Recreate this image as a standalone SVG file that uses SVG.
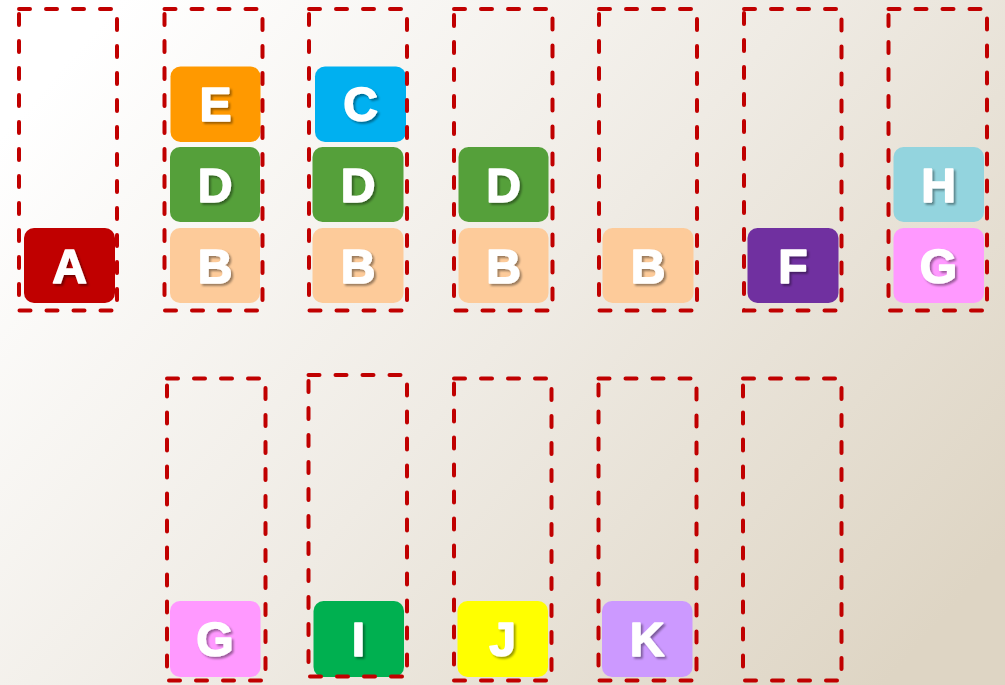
<svg xmlns="http://www.w3.org/2000/svg" width="1005" height="685" viewBox="0 0 1005 685">
<defs>
<linearGradient id="bg" x1="0" y1="0.2" x2="1" y2="0.8">
<stop offset="0" stop-color="#ffffff"/>
<stop offset="0.5" stop-color="#efebe4"/>
<stop offset="1" stop-color="#ded5c4"/>
</linearGradient>
<filter id="sh" x="-30%" y="-30%" width="160%" height="160%">
<feDropShadow dx="2" dy="2" stdDeviation="1" flood-color="#000" flood-opacity="0.4"/>
</filter>
<style>
.box{fill:none;stroke:#c00000;stroke-width:4;stroke-dasharray:11 16;stroke-linecap:round}
.t{rx:10;ry:10}
.lbl{font-family:"Liberation Sans",Arial,sans-serif;font-weight:bold;font-size:48px;fill:#fff;stroke:#fff;stroke-width:1.6;stroke-linejoin:round;text-anchor:middle;filter:url(#sh)}
</style>
</defs>
<rect width="1005" height="685" fill="url(#bg)"/>

<g id="nodes">
<g id="node-A"><rect class="t" x="24" y="228" width="91" height="75" fill="#c00000"/><text class="lbl" x="69.5" y="282.5">A</text></g>
<g id="node-E"><rect class="t" x="170.5" y="66.5" width="90" height="75.5" fill="#ff9900"/><text class="lbl" x="215.5" y="121">E</text></g>
<g id="node-D1"><rect class="t" x="170" y="147" width="90" height="75" fill="#55a03a"/><text class="lbl" x="215" y="201.5">D</text></g>
<g id="node-B1"><rect class="t" x="170" y="228" width="90" height="75" fill="#fdcb9a"/><text class="lbl" x="215" y="282.5">B</text></g>
<g id="node-C"><rect class="t" x="315" y="66.5" width="91" height="75.5" fill="#00b0f0"/><text class="lbl" x="360.5" y="121">C</text></g>
<g id="node-D2"><rect class="t" x="312.5" y="147" width="91" height="75" fill="#55a03a"/><text class="lbl" x="358" y="201.5">D</text></g>
<g id="node-B2"><rect class="t" x="312.5" y="228" width="91" height="75" fill="#fdcb9a"/><text class="lbl" x="358" y="282.5">B</text></g>
<g id="node-D3"><rect class="t" x="458.5" y="147" width="90" height="75" fill="#55a03a"/><text class="lbl" x="503.5" y="201.5">D</text></g>
<g id="node-B3"><rect class="t" x="458.5" y="228" width="90" height="75" fill="#fdcb9a"/><text class="lbl" x="503.5" y="282.5">B</text></g>
<g id="node-B4"><rect class="t" x="602.5" y="228" width="91" height="75" fill="#fdcb9a"/><text class="lbl" x="648" y="282.5">B</text></g>
<g id="node-F"><rect class="t" x="747.5" y="228" width="91" height="75" fill="#7030a0"/><text class="lbl" x="793" y="282.5">F</text></g>
<g id="node-H"><rect class="t" x="893.5" y="147" width="90.5" height="75" fill="#93d4de"/><text class="lbl" x="938.5" y="201.5">H</text></g>
<g id="node-G1"><rect class="t" x="893.5" y="228" width="90.5" height="75" fill="#ff99ff"/><text class="lbl" x="938.5" y="282.5">G</text></g>
<g id="node-G2"><rect class="t" x="170" y="601" width="90.5" height="76" fill="#ff99ff"/><text class="lbl" x="215" y="655.5">G</text></g>
<g id="node-I"><rect class="t" x="313.5" y="601" width="90.5" height="76" fill="#00b050"/><text class="lbl" x="358.5" y="655.5">I</text></g>
<g id="node-J"><rect class="t" x="457.5" y="601" width="90.5" height="76" fill="#ffff00"/><text class="lbl" x="502.5" y="655.5">J</text></g>
<g id="node-K"><rect class="t" x="602" y="601" width="90.5" height="76" fill="#cc99ff"/><text class="lbl" x="647" y="655.5">K</text></g>
</g>

<g id="slots">
<rect id="slot-1" class="box" x="19" y="9" width="98" height="301.5"/>
<rect id="slot-2" class="box" x="164.5" y="9" width="98" height="301.5"/>
<rect id="slot-3" class="box" x="309" y="9" width="98" height="301.5"/>
<rect id="slot-4" class="box" x="454" y="9" width="98.5" height="301.5"/>
<rect id="slot-5" class="box" x="599" y="9" width="98" height="301.5"/>
<rect id="slot-6" class="box" x="744" y="9" width="97.5" height="301.5"/>
<rect id="slot-7" class="box" x="888.5" y="9" width="98.5" height="301.5"/>
<rect id="slot-8" class="box" x="167" y="378.5" width="98.5" height="302"/>
<rect id="slot-9" class="box" x="308.5" y="375" width="98.5" height="301.5"/>
<rect id="slot-10" class="box" x="454" y="378.5" width="97.5" height="302"/>
<rect id="slot-11" class="box" x="598.5" y="378.5" width="98" height="302"/>
<rect id="slot-12" class="box" x="743" y="378.5" width="98.5" height="302"/>
</g>
</svg>
